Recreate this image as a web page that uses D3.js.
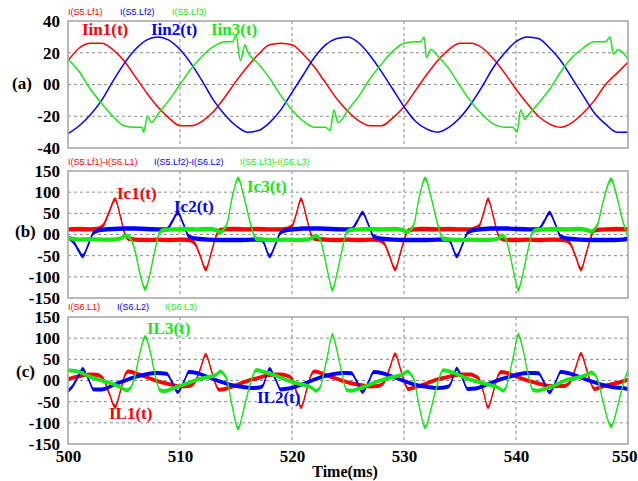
<!DOCTYPE html>
<html>
<head>
<meta charset="utf-8">
<script src="https://cdn.jsdelivr.net/npm/d3@7"></script>
<style>
body { margin: 0; background: #fff; }
svg { display: block; }
</style>
</head>
<body>
<svg width="638" height="481"></svg>
<script>
// time axis
var xTicks = [500, 510, 520, 530, 540, 550]
var xGrid = [510, 520, 530, 540]
var yTicksA = [40, 20, 0, -20, -40]
var yTicksBC = [150, 100, 50, 0, -50, -100, -150]

var legendA = ["I(S5.Lf1)", "I(S5.Lf2)", "I(S5.Lf3)"]
var legendB = ["I(S5.Lf1)-I(S6.L1)", "I(S5.Lf2)-I(S6.L2)", "I(S5.Lf3)-I(S6.L3)"]
var legendC = ["I(S6.L1)", "I(S6.L2)", "I(S6.L3)"]

// (a) input currents [ms, A]
var iin1 = [[500,15],[501,23],[502,26],[503,26],[504,22],[505,15],[506,5],[507,-5],[508,-14],[509,-21],[510,-26],[511,-26],[512,-23],[513,-17],[514,-8],[515,2],[516,11],[517,19],[518,25],[519,26],[520,25],[521,19],[522,11],[523,1],[524,-9],[525,-17],[526,-23],[527,-26],[528,-26],[529,-21],[530,-14],[531,-4],[532,6],[533,15],[534,22],[535,26],[536,26],[537,23],[538,16],[539,7],[540,-3],[541,-12],[542,-20],[543,-25],[544,-27],[545,-24],[546,-18],[547,-10],[548,0],[549,7],[550,14]]
var iin2 = [[500,-31],[501,-26],[502,-19],[503,-10],[504,2],[505,13],[506,22],[507,28],[508,30],[509,28],[510,22],[511,13],[512,2],[513,-10],[514,-19],[515,-26],[516,-30],[517,-29],[518,-24],[519,-16],[520,-5],[521,6],[522,17],[523,25],[524,29],[525,30],[526,26],[527,18],[528,8],[529,-3],[530,-14],[531,-23],[532,-28],[533,-30],[534,-27],[535,-21],[536,-12],[537,-1],[538,11],[539,20],[540,27],[541,30],[542,29],[543,23],[544,15],[545,4],[546,-7],[547,-18],[548,-25],[549,-30],[550,-30]]
var iin3 = [[500,16],[501,8],[502,-3],[503,-12],[504,-20],[505,-26],[506,-27],[506.6,-27],[506.75,-30],[507.1,-20],[507.45,-24],[508,-19],[509,-10],[510,0],[511,10],[512,18],[513,24],[514,27],[514.7,27],[515,31],[515.4,15],[515.8,25],[516,21],[517,13],[518,4],[519,-7],[520,-16],[521,-23],[522,-27],[523,-27],[523.4,-29],[523.75,-16],[524.1,-24],[525,-16],[526,-7],[527,4],[528,13],[529,21],[530,26],[531,27],[531.5,27],[531.8,30],[532,17],[532.4,22],[533,18],[534,10],[535,-1],[536,-11],[537,-19],[538,-25],[539,-27],[539.7,-27],[540.1,-30],[540.4,-16],[540.8,-22],[541,-20],[542,-12],[543,-3],[544,8],[545,17],[546,23],[547,27],[548,27],[548.4,30],[548.7,19],[549.1,22],[550,16]]

// (b) filter capacitor currents
var ic1 = [[500,12],[501,13],[502,12],[502.6,13],[503.1,20],[503.7,55],[504.2,83],[504.7,40],[505.1,0],[505.4,-10],[506,-12],[507,-13],[508,-12],[509,-13],[510,-12],[510.8,-13],[511.3,-20],[511.8,-50],[512.3,-82],[512.8,-42],[513.2,-5],[513.5,10],[514,12],[515,13],[516,12],[517,13],[518,12],[519,12],[519.5,13],[520,20],[520.4,50],[520.8,83],[521.3,40],[521.7,0],[522,-10],[523,-12],[524,-13],[525,-12],[526,-13],[527,-12],[527.7,-13],[528.2,-20],[528.7,-50],[529.2,-82],[529.7,-42],[530.1,-5],[530.4,10],[531,12],[532,13],[533,12],[534,13],[535,12],[536,12],[536.2,13],[536.7,20],[537.1,50],[537.5,83],[538,40],[538.4,0],[538.7,-10],[539,-12],[540,-13],[541,-12],[542,-13],[543,-12],[544.3,-13],[544.8,-20],[545.3,-50],[545.8,-82],[546.3,-42],[546.7,-5],[547,10],[548,12],[549,13],[550,12]]
var ic2 = [[500,-6],[500.5,-18],[501,-40],[501.3,-51],[501.8,-25],[502.3,5],[503,11],[504,13],[505,14],[506,14],[507,13],[508,12],[508.8,12],[509.3,30],[509.8,51],[510.3,25],[510.8,-5],[511.5,-10],[512.5,-12],[513.5,-13],[514.5,-13],[515.5,-13],[516.5,-12],[517.2,-12],[517.5,-20],[517.7,-35],[518,-51],[518.5,-25],[519,5],[519.7,11],[520.5,13],[521.5,14],[522.5,14],[523.5,13],[524.5,12],[525.3,12],[525.8,30],[526.3,51],[526.8,25],[527.3,-5],[528,-10],[529,-12],[530,-13],[531,-13],[532,-13],[533,-12],[533.9,-12],[534.2,-20],[534.4,-35],[534.7,-51],[535.2,-25],[535.7,5],[536.4,11],[537.2,13],[538.2,14],[539.2,14],[540.2,13],[541.2,12],[542,12],[542.5,30],[543,51],[543.5,25],[544,-5],[544.7,-10],[545.7,-12],[546.7,-13],[547.7,-13],[548.7,-13],[549.5,-12],[550,-10]]
var ic3 = [[500,-8],[501,-12],[502,-11],[503,-12],[504,-12],[504.8,-8],[505.2,-3],[505.6,-10],[506,-40],[506.4,-90],[506.9,-128],[507.3,-95],[507.7,-45],[508.2,6],[508.6,11],[509.5,12],[510.5,13],[511.5,12],[512.5,13],[513.3,10],[513.6,5],[513.9,12],[514.2,25],[514.6,80],[515.2,132],[515.7,90],[516.2,35],[516.8,-10],[517.5,-12],[518.5,-13],[519.5,-12],[520.5,-13],[521.3,-12],[521.8,-8],[522.1,-3],[522.5,-10],[522.8,-40],[523.2,-90],[523.6,-130],[524,-95],[524.4,-45],[524.9,6],[525.3,11],[526,12],[527,13],[528,12],[529,13],[530,10],[530.3,5],[530.6,12],[530.9,25],[531.3,80],[531.9,132],[532.4,90],[532.9,35],[533.5,-10],[534.2,-12],[535,-13],[536,-12],[537,-13],[538,-12],[538.5,-8],[538.8,-3],[539.1,-10],[539.4,-40],[539.8,-90],[540.2,-130],[540.6,-95],[541,-45],[541.5,6],[541.9,11],[542.5,12],[543.5,13],[544.5,12],[545.5,13],[546.4,10],[546.7,7],[547,12],[547.3,25],[547.8,80],[548.5,130],[549,90],[549.5,35],[550,-5]]

// (c) load currents
var il1 = [[500,3],[501,10],[502,14],[502.6,13],[503.1,6],[503.7,-32],[504.2,-62],[504.7,-23],[505.1,14],[505.4,21],[506,17],[507,8],[508,-2],[509,-8],[510,-14],[510.8,-13],[511.3,-5],[511.8,26],[512.3,61],[512.8,24],[513.2,-10],[513.5,-22],[514,-20],[515,-11],[516,-1],[517,6],[518,13],[519,14],[519.5,12],[520,5],[520.4,-27],[520.8,-63],[521.3,-23],[521.7,13],[522,21],[523,13],[524,4],[525,-5],[526,-10],[527,-14],[527.7,-13],[528.2,-5],[528.7,27],[529.2,62],[529.7,26],[530.1,-8],[530.4,-20],[531,-16],[532,-7],[533,3],[534,9],[535,14],[536,14],[536.2,12],[536.7,4],[537.1,-28],[537.5,-63],[538,-24],[538.4,12],[538.7,20],[539,19],[540,10],[541,0],[542,-7],[543,-13],[544.3,-13],[544.8,-5],[545.3,28],[545.8,63],[546.3,26],[546.7,-7],[547,-20],[548,-12],[549,-6],[550,2]]
var il2 = [[500,-25],[500.5,-10],[501,14],[501.3,27],[501.8,5],[502.3,-21],[503,-21],[504,-11],[505,-1],[506,8],[507,15],[508,18],[508.8,16],[509.3,-4],[509.8,-27],[510.3,-6],[510.8,20],[511.5,18],[512.5,8],[513.5,-2],[514.5,-10],[515.5,-15],[516.5,-18],[517.2,-16],[517.5,-7],[517.7,10],[518,27],[518.5,5],[519,-21],[519.7,-19],[520.5,-13],[521.5,-3],[522.5,7],[523.5,14],[524.5,18],[525.3,17],[525.8,-3],[526.3,-27],[526.8,-5],[527.3,20],[528,18],[529,9],[530,-1],[531,-10],[532,-15],[533,-18],[533.9,-15],[534.2,-6],[534.4,10],[534.7,28],[535.2,6],[535.7,-20],[536.4,-19],[537.2,-12],[538.2,-1],[539.2,7],[540.2,15],[541.2,18],[542,17],[542.5,-4],[543,-28],[543.5,-6],[544,20],[544.7,17],[545.7,8],[546.7,-2],[547.7,-10],[548.7,-16],[549.5,-18],[550,-20]]
var il3 = [[500,24],[501,20],[502,8],[503,0],[504,-8],[504.8,-17],[505.2,-23],[505.6,-17],[506,13],[506.4,63],[506.9,103],[507.3,73],[507.7,23],[508.2,-23],[508.6,-25],[509.5,-17],[510.5,-8],[511.5,2],[512.5,8],[513.3,15],[513.6,21],[513.9,15],[514.2,2],[514.6,-53],[515.2,-113],[515.7,-67],[516.2,-15],[516.8,25],[517.5,20],[518.5,12],[519.5,1],[520.5,-7],[521.3,-12],[521.8,-18],[522.1,-24],[522.5,-17],[522.8,13],[523.2,62],[523.6,108],[524,73],[524.4,23],[524.9,-23],[525.3,-24],[526,-19],[527,-9],[528,1],[529,8],[530,16],[530.3,21],[530.6,15],[530.9,2],[531.3,-53],[531.9,-110],[532.4,-68],[532.9,-16],[533.5,24],[534.2,20],[535,12],[536,1],[537,-6],[538,-13],[538.5,-18],[538.8,-24],[539.1,-17],[539.4,13],[539.8,62],[540.2,108],[540.6,76],[541,25],[541.5,-22],[541.9,-24],[542.5,-20],[543.5,-11],[544.5,1],[545.5,7],[546.4,15],[546.7,19],[547,15],[547.3,2],[547.8,-53],[548.5,-108],[549,-69],[549.5,-15],[550,25]]

var colors = ["#ff0000", "#0000ff", "#19e619"]
var serif = "'Liberation Serif', 'Times New Roman', serif"
var sans = "'Liberation Sans', Arial, sans-serif"

var svg = d3.select("svg")
svg.append("rect").attr("width", 638).attr("height", 481).attr("fill", "#fff")

var x = d3.scaleLinear().domain([500, 550]).range([68, 628])

function panel(p) {
  var y = d3.scaleLinear().domain(p.domain).range([p.bottom, p.top])
  var g = svg.append("g")

  g.selectAll(".hgrid").data(p.grid).enter().append("line")
    .attr("x1", 68).attr("x2", 628)
    .attr("y1", function(d){ return y(d) }).attr("y2", function(d){ return y(d) })
    .attr("stroke", "#8a8a8a").attr("stroke-dasharray", "3,3")
  g.selectAll(".vgrid").data(xGrid).enter().append("line")
    .attr("x1", function(d){ return x(d) }).attr("x2", function(d){ return x(d) })
    .attr("y1", p.top).attr("y2", p.bottom)
    .attr("stroke", "#8a8a8a").attr("stroke-dasharray", "3,3")

  var line = d3.line().curve(d3.curveMonotoneX)
    .x(function(d){ return x(d[0]) }).y(function(d){ return y(d[1]) })
  // ripple band: vertical thickness, thin on steep edges
  var band = d3.area().curve(d3.curveMonotoneX)
    .x(function(d){ return x(d[0]) })
    .y0(function(d){ return y(d[1]) - p.band }).y1(function(d){ return y(d[1]) + p.band })

  p.series.forEach(function(s, i) {
    if (p.band) g.append("path").datum(s).attr("d", band).attr("fill", colors[i])
    g.append("path").datum(s).attr("d", line)
      .attr("fill", "none").attr("stroke", colors[i]).attr("stroke-width", p.lw)
  })

  g.append("rect").attr("x", 68).attr("y", p.top)
    .attr("width", 560).attr("height", p.bottom - p.top)
    .attr("fill", "none").attr("stroke", "#a8a8a8").attr("stroke-width", 1.6)

  var ax = g.append("g").attr("transform", "translate(68,0)")
    .call(d3.axisLeft(y).tickValues(p.ticks).tickSize(0).tickPadding(8)
      .tickFormat(function(d){ return d === 0 ? "00" : d }))
  ax.select(".domain").remove()
  ax.selectAll("text").attr("font-family", serif).attr("font-weight", "bold")
    .attr("font-size", 17).attr("fill", "#000")

  p.legend.forEach(function(t, i) {
    g.append("text").attr("x", p.legendX[i]).attr("y", p.legendY).text(t)
      .attr("font-family", sans).attr("font-size", 9).attr("fill", colors[i])
  })

  g.append("text").attr("x", p.labelX).attr("y", p.labelY).text(p.label)
    .attr("font-family", serif).attr("font-weight", "bold").attr("font-size", 17)

  p.names.forEach(function(n) {
    g.append("text").attr("x", n[1]).attr("y", n[2]).text(n[0])
      .attr("font-family", serif).attr("font-weight", "bold").attr("font-size", 17)
      .attr("fill", colors[n[3]])
  })
  return y
}

panel({domain: [-40, 40], top: 21, bottom: 148, ticks: yTicksA, grid: [20, 0, -20],
  series: [iin1, iin2, iin3], band: 0, lw: 1.5,
  legend: legendA, legendX: [68, 120, 172], legendY: 15,
  label: "(a)", labelX: 12, labelY: 89,
  names: [["Iin1(t)", 82, 35, 0], ["Iin2(t)", 151, 35, 1], ["Iin3(t)", 211, 35, 2]]})

panel({domain: [-150, 150], top: 171, bottom: 298, ticks: yTicksBC, grid: [100, 50, 0, -50, -100],
  series: [ic1, ic2, ic3], band: 2.2, lw: 1.2,
  legend: legendB, legendX: [68, 154, 240], legendY: 165,
  label: "(b)", labelX: 15, labelY: 237,
  names: [["Ic1(t)", 117, 199, 0], ["Ic2(t)", 174, 212, 1], ["Ic3(t)", 247, 192, 2]]})

panel({domain: [-150, 150], top: 317, bottom: 444, ticks: yTicksBC, grid: [100, 50, 0, -50, -100],
  series: [il1, il2, il3], band: 2, lw: 1.2,
  legend: legendC, legendX: [68, 117, 165], legendY: 310,
  label: "(c)", labelX: 16, labelY: 377,
  names: [["IL3(t)", 147, 334, 2], ["IL1(t)", 109, 419, 0], ["IL2(t)", 257, 403, 1]]})

var xa = svg.append("g").attr("transform", "translate(0,444)")
  .call(d3.axisBottom(x).tickValues(xTicks).tickSize(0).tickPadding(6))
xa.select(".domain").remove()
xa.selectAll("text").attr("font-family", serif).attr("font-weight", "bold")
  .attr("font-size", 17).attr("fill", "#000")
// last label sits against the right edge, as in the original
xa.selectAll("text").filter(function(d){ return d === 550 }).attr("text-anchor", "end").attr("x", 9)

svg.append("text").attr("x", 345).attr("y", 477).attr("text-anchor", "middle")
  .text("Time(ms)").attr("font-family", serif).attr("font-weight", "bold").attr("font-size", 16)
</script>
</body>
</html>
